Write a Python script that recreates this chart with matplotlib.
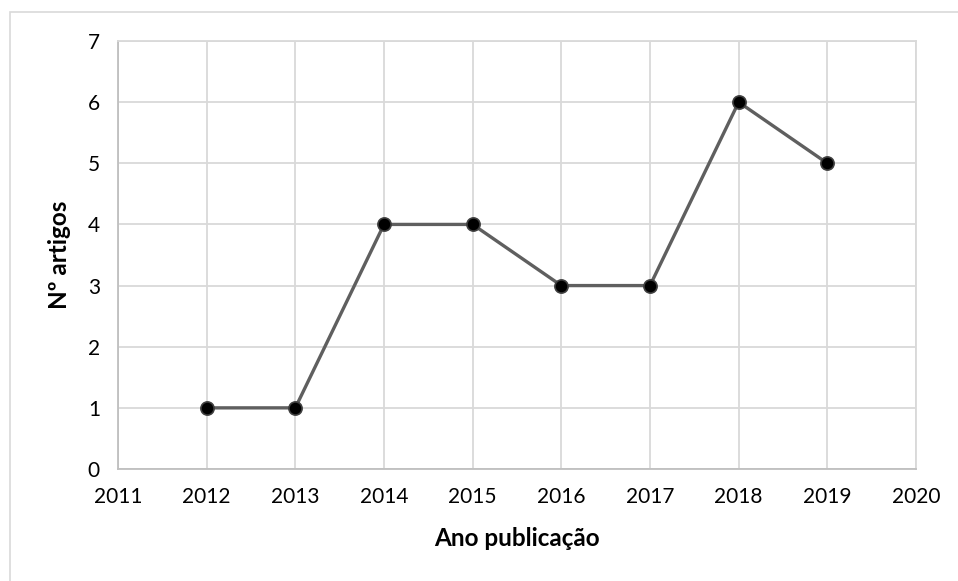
import matplotlib.pyplot as plt
from matplotlib.patches import Rectangle

anos = [2012, 2013, 2014, 2015, 2016, 2017, 2018, 2019]
artigos = [1, 1, 4, 4, 3, 3, 6, 5]
x_ticks = list(range(2011, 2021))
y_ticks = list(range(0, 8))

plt.rcParams['font.family'] = ['Lato', 'DejaVu Sans']

fig = plt.figure(figsize=(9.58, 5.81), dpi=100)
ax = fig.add_axes([118 / 958, 1 - 469 / 581, (916 - 118) / 958, (469 - 41) / 581])

# chart area border
fig.patches.append(Rectangle((10 / 958, -0.05), 1.0, 1 - 12 / 581 + 0.05,
                             transform=fig.transFigure, fill=False,
                             edgecolor='#d9d9d9', linewidth=1.2))

ax.plot(anos, artigos, color='#5f5f5f', linewidth=2.4, marker='o',
        markersize=9.5, markerfacecolor='black', markeredgecolor='#404040',
        markeredgewidth=1.2, zorder=3)

ax.set_xlim(2011, 2020)
ax.set_ylim(0, 7)
ax.set_xticks(x_ticks)
ax.set_yticks(y_ticks)
ax.grid(True, color='#d9d9d9', linewidth=1.3)
ax.set_axisbelow(True)
for s in ['top', 'right']:
    ax.spines[s].set_color('#d9d9d9')
    ax.spines[s].set_linewidth(1.3)
for s in ['left', 'bottom']:
    ax.spines[s].set_color('#bfbfbf')
    ax.spines[s].set_linewidth(1.3)
ax.tick_params(length=0, labelsize=15, pad=13, colors='black')

ax.set_xlabel('Ano publicação', fontsize=17.5, fontweight='bold', labelpad=14)
ax.set_ylabel('Nº artigos', fontsize=17.5, fontweight='bold', labelpad=12)

fig.savefig('out.png', dpi=100)
